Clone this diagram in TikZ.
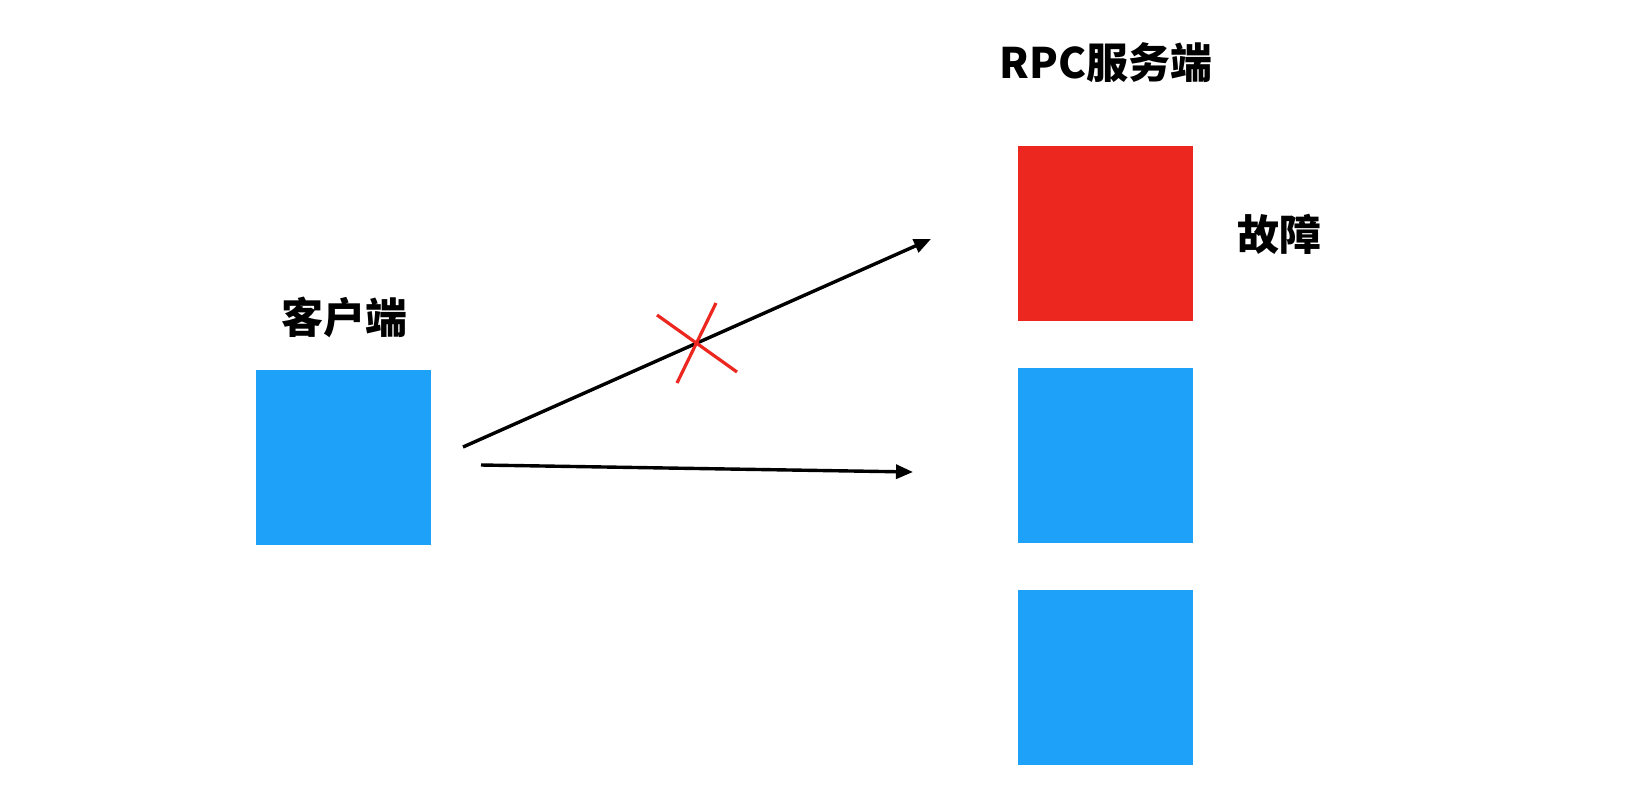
\documentclass[tikz,border=0pt]{standalone}
\usepackage{fontspec}
\newfontfamily\cjk{Noto Sans CJK SC}
\usetikzlibrary{arrows.meta}
\definecolor{srvblue}{HTML}{1DA1F9}
\definecolor{srvred}{HTML}{EC2720}
\begin{document}
\begin{tikzpicture}[x=1pt,y=-1pt]

      \useasboundingbox (0,0) rectangle (1626,798);

      \begin{scope}[every node/.style={rectangle, inner sep=0pt, minimum size=175pt}]
        \node[fill=srvblue] (client) at (343.5,457)   {};
        \node[fill=srvred]  (s1)     at (1105.5,233)  {};
        \node[fill=srvblue] (s2)     at (1105.5,455.5) {};
        \node[fill=srvblue] (s3)     at (1105.5,677.5) {};
      \end{scope}

      \begin{scope}[every node/.style={font=\cjk\bfseries\fontsize{42}{44}\selectfont}]
        \node (lclient) at (344,317)  {客户端};
        \node (lserver) at (1106,63)  {RPC服务端};
        \node (lfault)  at (1279,234) {故障};
      \end{scope}

      \coordinate (a1) at (463,447);
      \coordinate (b1) at (931,239);
      \coordinate (a2) at (481,465);
      \coordinate (b2) at (913,472);

      \begin{scope}[every edge/.style={draw, line width=3.4pt, -{Triangle[length=17pt,width=14pt]}}]
        \path (a1) edge (b1);
        \path (a2) edge (b2);
      \end{scope}

      \coordinate (x1) at (657,315);
      \coordinate (x2) at (737,372);
      \coordinate (x3) at (716,303);
      \coordinate (x4) at (677,383);

      \begin{scope}[every edge/.style={draw, srvred, line width=3.2pt}]
        \path (x1) edge (x2);
        \path (x3) edge (x4);
      \end{scope}

    \end{tikzpicture}
\end{document}
